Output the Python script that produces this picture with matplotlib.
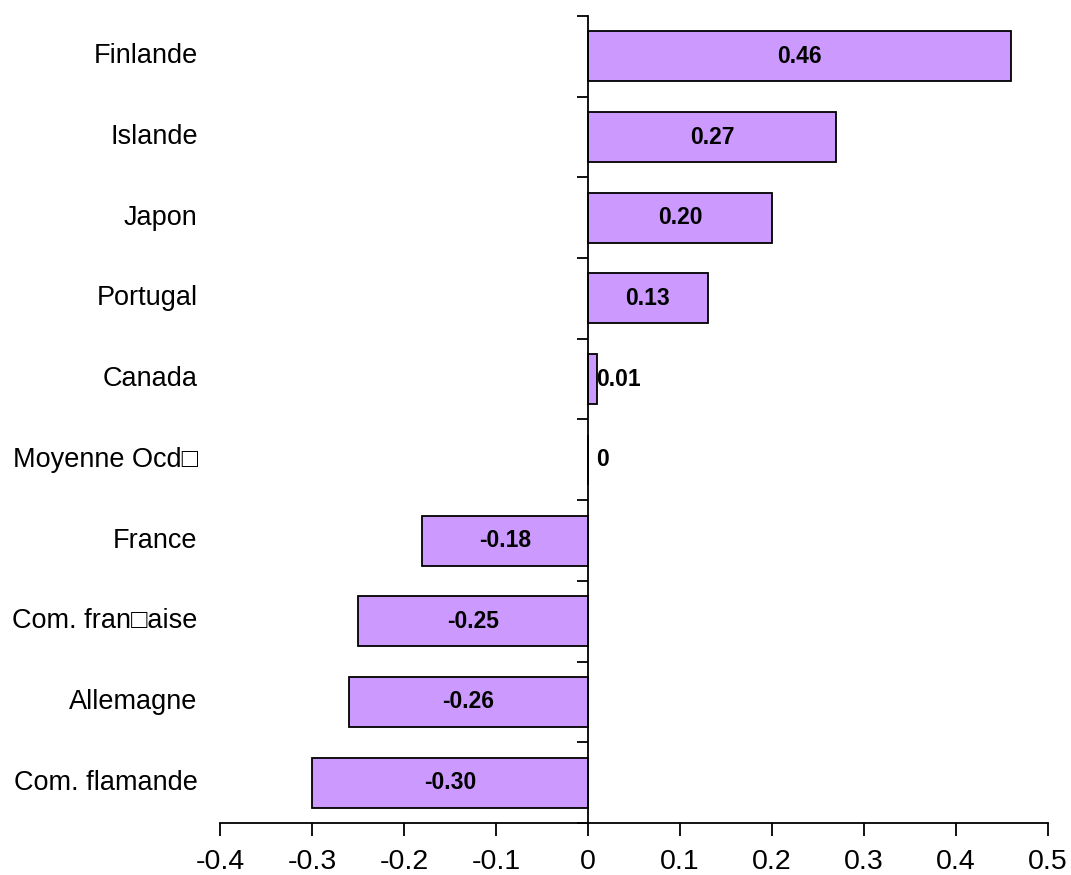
import numpy as np
import matplotlib
matplotlib.use('Agg')
import matplotlib.pyplot as plt
import matplotlib.transforms as mtransforms

plt.rcParams['font.family'] = ['Liberation Sans', 'DejaVu Sans']

# data, top to bottom
countries = ['Finlande', 'Islande', 'Japon', 'Portugal', 'Canada',
             'Moyenne Ocd\u25a1', 'France', 'Com. fran\u25a1aise',
             'Allemagne', 'Com. flamande']
values = [0.46, 0.27, 0.20, 0.13, 0.01, 0.0, -0.18, -0.25, -0.26, -0.30]
value_labels = ['0.46', '0.27', '0.20', '0.13', '0.01', '0',
                '-0.18', '-0.25', '-0.26', '-0.30']
xticks = [-0.4, -0.3, -0.2, -0.1, 0, 0.1, 0.2, 0.3, 0.4, 0.5]
xtick_labels = ['-0.4', '-0.3', '-0.2', '-0.1', '0', '0.1', '0.2', '0.3', '0.4', '0.5']

fig = plt.figure(figsize=(10.71, 8.75), dpi=100)
ax = fig.add_axes([220 / 1071, 1 - 823 / 875, 828 / 1071, 807 / 875])

y = np.arange(len(countries))
ax.barh(y, values, height=0.62, color='#CC99FF', edgecolor='black', linewidth=1.3)

ax.set_xlim(-0.4, 0.5)
ax.set_ylim(len(countries) - 0.5, -0.5)

ax.spines['top'].set_visible(False)
ax.spines['right'].set_visible(False)
ax.spines['left'].set_position(('data', 0))
ax.spines['left'].set_linewidth(1.3)
ax.spines['bottom'].set_linewidth(1.3)

ax.set_xticks(xticks)
ax.set_xticklabels(xtick_labels, fontsize=20.5)
ax.tick_params(axis='x', direction='out', length=9, width=1.3, pad=10)

ax.set_yticks(np.arange(len(countries) + 1) - 0.5)
ax.set_yticklabels([])
ax.tick_params(axis='y', direction='out', length=8, width=1.3)

# category labels on the left of the plot
trans = mtransforms.blended_transform_factory(ax.transAxes, ax.transData)
for yi, name in zip(y, countries):
    ax.text(-0.027, yi, name, transform=trans, ha='right', va='center', fontsize=19.5)

# value labels
for yi, v, lab in zip(y, values, value_labels):
    if abs(v) < 0.05:
        ax.text(0.009, yi, lab, ha='left', va='center', fontsize=16.5, fontweight='bold')
    else:
        ax.text(v / 2, yi, lab, ha='center', va='center', fontsize=16.5, fontweight='bold')

fig.savefig('out.png', dpi=100)
